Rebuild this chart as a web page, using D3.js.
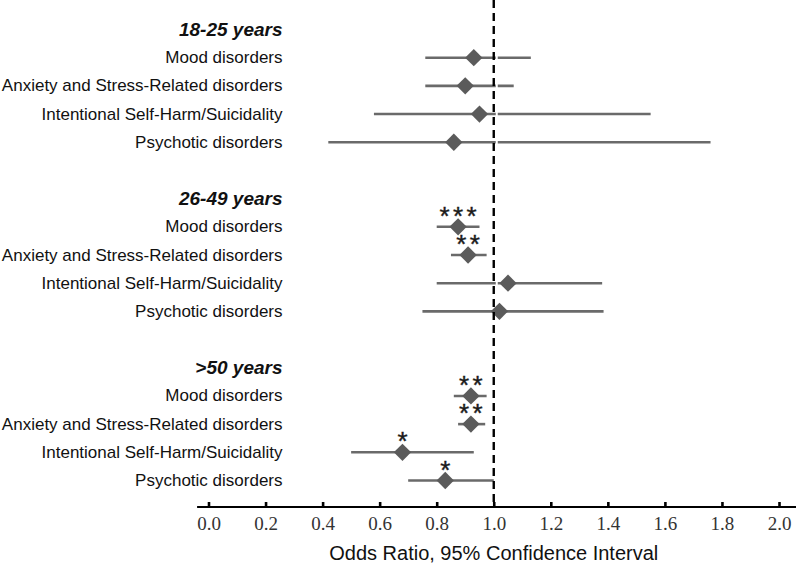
<!DOCTYPE html>
<html>
<head>
<meta charset="utf-8">
<script src="https://cdn.jsdelivr.net/npm/d3@7"></script>
<style>
  html, body { margin: 0; padding: 0; background: #fff; }
  svg { display: block; }
</style>
</head>
<body>
<svg id="chart" width="796" height="565"></svg>
<script>
// ---- data ----
const groups = ["18-25 years", "26-49 years", ">50 years"];
const categories = ["Mood disorders", "Anxiety and Stress-Related disorders", "Intentional Self-Harm/Suicidality", "Psychotic disorders"];
const oddsRatio = [
  [0.93, 0.90, 0.95, 0.86],
  [0.875, 0.91, 1.05, 1.02],
  [0.92, 0.92, 0.68, 0.83]
];
const ciLower = [
  [0.76, 0.76, 0.58, 0.42],
  [0.80, 0.85, 0.80, 0.75],
  [0.86, 0.875, 0.50, 0.70]
];
const ciUpper = [
  [1.13, 1.07, 1.55, 1.76],
  [0.95, 0.975, 1.38, 1.385],
  [0.975, 0.97, 0.93, 1.00]
];
const significance = [
  ["", "", "", ""],
  ["***", "**", "", ""],
  ["**", "**", "*", "*"]
];
const xTicks = [0.0, 0.2, 0.4, 0.6, 0.8, 1.0, 1.2, 1.4, 1.6, 1.8, 2.0];
const refValue = 1.0;
const xTitle = "Odds Ratio, 95% Confidence Interval";

// ---- layout ----
const svg = d3.select("#chart");
const sans = "'Liberation Sans', Arial, Helvetica, sans-serif";
const serif = "'Liberation Serif', 'Times New Roman', serif";
const x = d3.scaleLinear().domain([0, 2]).range([208.5, 779]);
const y = d3.scaleLinear().domain([0, 16]).range([29.5, 480.5]);
const axisY = 507;
const labelX = 282.5;

const rows = [];
groups.forEach((g, gi) => {
  categories.forEach((c, ci) => {
    rows.push({
      slot: gi * 6 + 1 + ci,
      label: c,
      or: oddsRatio[gi][ci],
      lo: ciLower[gi][ci],
      hi: ciUpper[gi][ci],
      sig: significance[gi][ci]
    });
  });
});

// group headers
svg.append("g").selectAll("text").data(groups).join("text")
  .attr("x", labelX)
  .attr("y", (d, i) => y(i * 6))
  .attr("text-anchor", "end")
  .attr("dominant-baseline", "central")
  .attr("font-family", sans)
  .attr("font-size", 19)
  .attr("font-weight", "bold")
  .attr("font-style", "italic")
  .attr("fill", "#111")
  .text(d => d);

// row labels
svg.append("g").selectAll("text").data(rows).join("text")
  .attr("x", labelX)
  .attr("y", d => y(d.slot))
  .attr("text-anchor", "end")
  .attr("dominant-baseline", "central")
  .attr("font-family", sans)
  .attr("font-size", 17)
  .attr("fill", "#111")
  .text(d => d.label);

// CI lines
svg.append("g").selectAll("line").data(rows).join("line")
  .attr("x1", d => x(d.lo))
  .attr("x2", d => x(d.hi))
  .attr("y1", d => y(d.slot))
  .attr("y2", d => y(d.slot))
  .attr("stroke", "#6a6a6a")
  .attr("stroke-width", 2.6);

// white gap right of the reference line
svg.append("line")
  .attr("x1", x(refValue) + 3).attr("x2", x(refValue) + 3)
  .attr("y1", 0).attr("y2", axisY - 3)
  .attr("stroke", "#fff")
  .attr("stroke-width", 2);

// diamonds
const diamond = d3.symbol().type(d3.symbolSquare).size(150);
svg.append("g").selectAll("path").data(rows).join("path")
  .attr("d", diamond)
  .attr("transform", d => `translate(${x(d.or)},${y(d.slot)}) rotate(45)`)
  .attr("fill", "#5b5b5b");

// significance stars
const starData = [];
rows.forEach(r => {
  const n = r.sig.length;
  for (let i = 0; i < n; i++) {
    starData.push({ cx: x(r.or) + (i - (n - 1) / 2) * 13.5, cy: y(r.slot) });
  }
});
svg.append("g").selectAll("text").data(starData).join("text")
  .attr("x", d => d.cx)
  .attr("y", d => d.cy - 2)
  .attr("text-anchor", "middle")
  .attr("font-family", sans)
  .attr("font-size", 26)
  .attr("fill", "#1a1a1a")
  .attr("stroke", "#1a1a1a")
  .attr("stroke-width", 0.4)
  .text("*");

// reference dashed line
svg.append("line")
  .attr("x1", x(refValue)).attr("x2", x(refValue))
  .attr("y1", 0).attr("y2", axisY)
  .attr("stroke", "#000")
  .attr("stroke-width", 2.4)
  .attr("stroke-dasharray", "8,5");

// x axis
svg.append("line")
  .attr("x1", x(-0.04)).attr("x2", x(2.06))
  .attr("y1", axisY).attr("y2", axisY)
  .attr("stroke", "#000")
  .attr("stroke-width", 2);

const axis = d3.axisBottom(x)
  .tickValues(xTicks)
  .tickFormat(d3.format(".1f"))
  .tickSizeInner(-6)
  .tickSizeOuter(0)
  .tickPadding(9);
const ag = svg.append("g")
  .attr("transform", `translate(0,${axisY + 1})`)
  .call(axis);
ag.select(".domain").remove();
ag.selectAll(".tick line").attr("stroke", "#000").attr("stroke-width", 2.6);
ag.selectAll(".tick text")
  .attr("font-family", serif)
  .attr("font-size", 19)
  .attr("fill", "#333");

svg.append("text")
  .attr("x", x(refValue))
  .attr("y", 553)
  .attr("text-anchor", "middle")
  .attr("dominant-baseline", "central")
  .attr("font-family", sans)
  .attr("font-size", 20)
  .attr("fill", "#111")
  .text(xTitle);
</script>
</body>
</html>
